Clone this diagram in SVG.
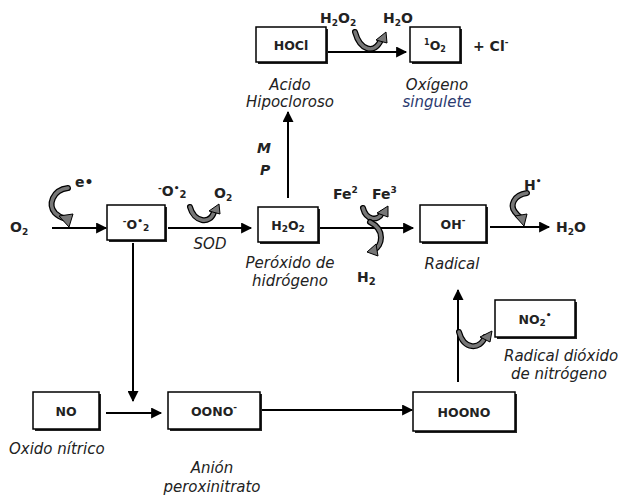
<svg xmlns="http://www.w3.org/2000/svg" width="624" height="500" viewBox="0 0 624 500">
<defs>
<style>
.box{fill:#fff;stroke:#000;stroke-width:1.5}
.sh{fill:#222}
.bl{font-family:"DejaVu Sans","Liberation Sans",sans-serif;font-size:12.5px;font-weight:bold;fill:#222;text-anchor:middle}
.lb{font-family:"DejaVu Sans","Liberation Sans",sans-serif;font-size:14px;font-weight:bold;fill:#222}
.it{font-family:"DejaVu Sans","Liberation Sans",sans-serif;font-size:15px;font-style:italic;fill:#222;text-anchor:middle}
.ln{stroke:#000;stroke-width:2;fill:none}
.co{stroke:#000;stroke-width:6;fill:none;stroke-linecap:round}
.ci{stroke:#777;stroke-width:3.5;fill:none;stroke-linecap:round}
.ch{fill:#777;stroke:#000;stroke-width:1}
</style>
<marker id="ahb" viewBox="0 0 10 10" refX="9" refY="5" markerWidth="13" markerHeight="11" orient="auto" markerUnits="userSpaceOnUse">
<path d="M0,0 L10,5 L0,10 z" fill="#000"/>
</marker>
</defs>

<g id="connectors">
<line class="ln" x1="52" y1="228" x2="106" y2="228" marker-end="url(#ahb)"/>
<line class="ln" x1="168" y1="228" x2="251" y2="228" marker-end="url(#ahb)"/>
<line class="ln" x1="320" y1="228" x2="413" y2="228" marker-end="url(#ahb)"/>
<line class="ln" x1="490" y1="227" x2="549" y2="227" marker-end="url(#ahb)"/>
<line class="ln" x1="288" y1="198" x2="288" y2="112" marker-end="url(#ahb)"/>
<line class="ln" x1="328" y1="52" x2="406" y2="52" marker-end="url(#ahb)"/>
<line class="ln" x1="133" y1="243" x2="133" y2="401" marker-end="url(#ahb)"/>
<line class="ln" x1="106" y1="413" x2="161" y2="413" marker-end="url(#ahb)"/>
<line class="ln" x1="262" y1="410" x2="412" y2="410" marker-end="url(#ahb)"/>
<line class="ln" x1="458" y1="382" x2="458" y2="290" marker-end="url(#ahb)"/>
</g>

<g id="curly-arrows">
<path class="co" d="M68,188 C52,190 48,205 55,213 C59,217 63,218 66,219"/>
<path class="ci" d="M68,188 C52,190 48,205 55,213 C59,217 63,218 66,219"/>
<polygon class="ch" points="59,216 73,214 69,227"/>
<path class="co" d="M190,207 C194,222 210,225 214,212"/>
<path class="ci" d="M190,207 C194,222 210,225 214,212"/>
<polygon class="ch" points="209,211 219,204 220,214"/>
<path class="co" d="M355,32 C360,50 374,55 381,40"/>
<path class="ci" d="M355,32 C360,50 374,55 381,40"/>
<polygon class="ch" points="376,40 386,32 387,43"/>
<path class="co" d="M363,208 C366,220 378,222 382,213"/>
<path class="ci" d="M363,208 C366,220 378,222 382,213"/>
<polygon class="ch" points="377,213 388,206 388,217"/>
<path class="co" d="M370,222 C386,230 382,246 374,250"/>
<path class="ci" d="M370,222 C386,230 382,246 374,250"/>
<polygon class="ch" points="376,244 367,252 378,256"/>
<path class="co" d="M527,193 C513,195 510,206 515,212 C518,216 520,217 521,218"/>
<path class="ci" d="M527,193 C513,195 510,206 515,212 C518,216 520,217 521,218"/>
<polygon class="ch" points="515,216 527,214 524,226"/>
<path class="co" d="M459,332 C464,350 480,350 485,337"/>
<path class="ci" d="M459,332 C464,350 480,350 485,337"/>
<polygon class="ch" points="480,337 492,331 490,342"/>
</g>

<g id="n-hocl">
<rect class="sh" x="258" y="29" width="70" height="35"/>
<rect class="box" x="256" y="27" width="70" height="35"/>
<text class="bl" x="291" y="50">HOCl</text>
</g>
<g id="n-1o2">
<rect class="sh" x="412" y="29" width="50" height="35"/>
<rect class="box" x="410" y="27" width="50" height="35"/>
<text class="bl" x="435" y="50"><tspan font-size="8" dy="-5">1</tspan><tspan dy="5">O</tspan><tspan font-size="8" dy="2">2</tspan></text>
</g>
<text class="lb" x="473" y="51">+  Cl<tspan font-size="9" dy="-6">-</tspan></text>
<text class="lb" x="320" y="23">H<tspan font-size="9" dy="3">2</tspan><tspan dy="-3">O</tspan><tspan font-size="9" dy="3">2</tspan></text>
<text class="lb" x="383" y="23">H<tspan font-size="9" dy="3">2</tspan><tspan dy="-3">O</tspan></text>
<text class="it" x="290" y="90">Acido</text>
<text class="it" x="290" y="107">Hipocloroso</text>
<text class="it" x="437" y="90">Oxígeno</text>
<text class="it" x="437" y="107" style="fill:#2b3a70">singulete</text>
<text class="lb" x="257" y="153" font-style="italic">M</text>
<text class="lb" x="260" y="175" font-style="italic">P</text>

<text class="lb" x="10" y="232">O<tspan font-size="9" dy="3">2</tspan></text>
<text class="lb" x="75" y="187">e•</text>

<g id="n-superoxide">
<rect class="sh" x="109" y="207" width="58" height="35"/>
<rect class="box" x="107" y="205" width="58" height="35"/>
<text class="bl" x="136" y="229"><tspan font-size="9" dy="-5">-</tspan><tspan dy="5">O</tspan><tspan font-size="9" dy="-5">•</tspan><tspan font-size="9" dy="7">2</tspan></text>
</g>
<text class="lb" x="158" y="196"><tspan font-size="9" dy="-5">-</tspan><tspan dy="5">O</tspan><tspan font-size="9" dy="-5">•</tspan><tspan font-size="10" dy="7">2</tspan></text>
<text class="lb" x="214" y="198">O<tspan font-size="9" dy="3">2</tspan></text>
<text class="it" x="210" y="249">SOD</text>

<g id="n-h2o2">
<rect class="sh" x="260" y="209" width="60" height="35"/>
<rect class="box" x="258" y="207" width="60" height="35"/>
<text class="bl" x="288" y="230" font-weight="normal">H<tspan font-size="9" dy="2">2</tspan><tspan dy="-2">O</tspan><tspan font-size="9" dy="2">2</tspan></text>
</g>
<text class="it" x="290" y="268">Peróxido de</text>
<text class="it" x="290" y="286">hidrógeno</text>

<text class="lb" x="333" y="199">Fe<tspan font-size="9" dy="-6">2</tspan></text>
<text class="lb" x="372" y="199">Fe<tspan font-size="9" dy="-6">3</tspan></text>
<text class="lb" x="357" y="282">H<tspan font-size="10" dy="3">2</tspan></text>

<g id="n-oh">
<rect class="sh" x="422" y="207" width="66" height="37"/>
<rect class="box" x="420" y="205" width="66" height="37"/>
<text class="bl" x="453" y="229">OH<tspan font-size="9" dy="-6">-</tspan></text>
</g>
<text class="it" x="452" y="269">Radical</text>
<text class="lb" x="524" y="190">H<tspan font-size="9" dy="-6">•</tspan></text>
<text class="lb" x="556" y="232">H<tspan font-size="9" dy="3">2</tspan><tspan dy="-3">O</tspan></text>

<g id="n-no2">
<rect class="sh" x="497" y="302" width="80" height="37"/>
<rect class="box" x="495" y="300" width="80" height="37"/>
<text class="bl" x="535" y="324" font-weight="normal">NO<tspan font-size="9" dy="2">2</tspan><tspan font-size="9" dy="-8">•</tspan></text>
</g>
<text class="it" x="504" y="361" style="text-anchor:start">Radical dióxido</text>
<text class="it" x="511" y="379" style="text-anchor:start">de nitrógeno</text>

<g id="n-no">
<rect class="sh" x="35" y="394" width="66" height="37"/>
<rect class="box" x="33" y="392" width="66" height="37"/>
<text class="bl" x="66" y="416">NO</text>
</g>
<text class="it" x="9" y="454" style="text-anchor:start">Oxido nítrico</text>

<g id="n-oono">
<rect class="sh" x="170" y="394" width="92" height="37"/>
<rect class="box" x="168" y="392" width="92" height="37"/>
<text class="bl" x="214" y="416">OONO<tspan font-size="9" dy="-6">-</tspan></text>
</g>
<text class="it" x="212" y="473">Anión</text>
<text class="it" x="212" y="492">peroxinitrato</text>

<g id="n-hoono">
<rect class="sh" x="415" y="394" width="102" height="39"/>
<rect class="box" x="413" y="392" width="102" height="39"/>
<text class="bl" x="464" y="417" font-weight="normal">HOONO</text>
</g>
</svg>
